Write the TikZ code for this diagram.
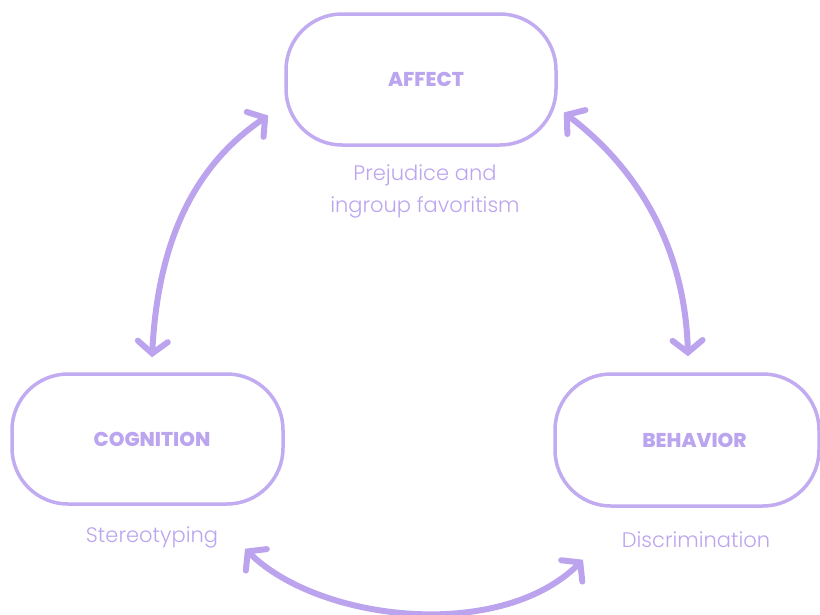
\documentclass[tikz,border=0pt]{standalone}
\usepackage{fontspec}
\setmainfont{Poppins}
\newfontfamily\lightfont{Poppins Light}
\newfontfamily\heavyfont{Poppins ExtraBold}
\usetikzlibrary{arrows.meta}
\definecolor{lavline}{HTML}{C2ACF1}
\definecolor{lavtext}{HTML}{BBA5EE}
\definecolor{lavarrow}{HTML}{BBA3EE}
\tikzset{
  box/.style={draw=lavline, line width=3.5pt, rounded corners=56pt,
    minimum width=270pt, minimum height=131pt, text=lavtext,
    font=\heavyfont\fontsize{20}{22}\selectfont},
  caption/.style={text=lavtext, align=center,
    font=\lightfont\fontsize{21}{32}\selectfont},
  link/.style={draw=lavarrow, line width=6pt, line cap=round,
    {Straight Barb[length=12pt, width=30pt, line cap=round]}-{Straight Barb[length=12pt, width=30pt, line cap=round]}}
}
\begin{document}
\begin{tikzpicture}[x=1pt, y=-1pt]
  \useasboundingbox (0,0) rectangle (820,614);
  % the three components (titles sit a little right of centre)
  \node[box] (affect) at (421,79.5) {\hspace*{10pt}AFFECT};
  \node[box, minimum width=271pt, minimum height=130pt] (cog) at (147.5,439) {\hspace*{9pt}COGNITION};
  \node[box, minimum width=264pt, minimum height=132pt] (beh) at (687,440) {\hspace*{15pt}BEHAVIOR};
  % captions under each box
  \node[caption, anchor=north] (affcap) at (425,161) {Prejudice and\\ingroup favoritism};
  \node[caption] (cogcap) at (152,537) {Stereotyping};
  \node[caption] (behcap) at (696,540) {Discrimination};
  % arrow ends
  \coordinate (a1) at ([shift={(-16,36)}]affect.west);
  \coordinate (c1) at ([shift={(4.5,-15)}]cog.north);
  \coordinate (a2) at ([shift={(6,33)}]affect.east);
  \coordinate (b1) at ([shift={(1,-16)}]beh.north);
  \coordinate (c2) at ([shift={(97.5,43)}]cog.south);
  \coordinate (b2) at ([shift={(-104,52)}]beh.south);
  % two-way links
  \draw[link] (c1) .. controls (158,240) and (195,165) .. (a1);
  \draw[link] (a2) .. controls (640,170) and (685,250) .. (b1);
  \draw[link] (c2) .. controls (320,622) and (500,642) .. (b2);
\end{tikzpicture}
\end{document}
